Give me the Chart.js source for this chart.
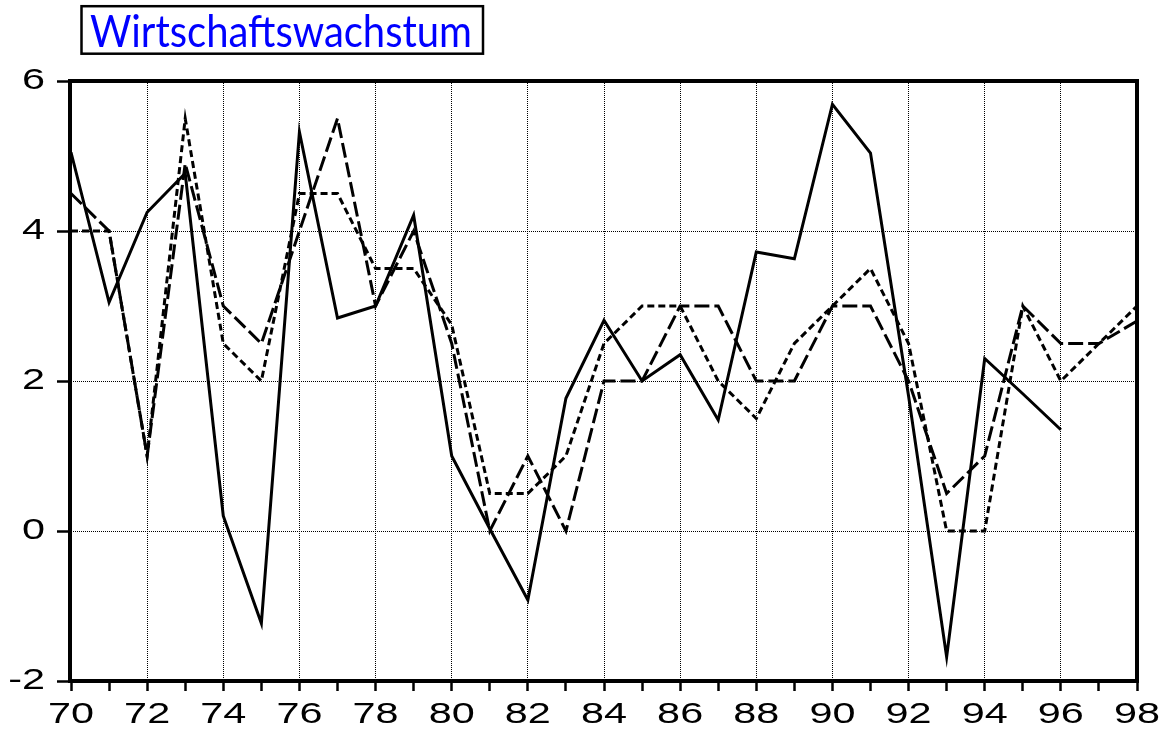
<!DOCTYPE html>
<html>
<head>
<meta charset="utf-8">
<script src="https://cdn.jsdelivr.net/npm/chart.js@4.4.1/dist/chart.umd.min.js"></script>
<style>
  html, body { margin: 0; padding: 0; background: #ffffff; }
  #wrap { width: 1167px; height: 731px; }
</style>
</head>
<body>
<div id="wrap"><canvas id="c" width="1167" height="731"></canvas></div>
<script>
// ---- data ----
const years = ['70','71','72','73','74','75','76','77','78','79','80','81','82','83','84','85','86','87','88','89','90','91','92','93','94','95','96','97','98'];
const xTickLabels = ['70','72','74','76','78','80','82','84','86','88','90','92','94','96','98'];
const yTickValues = [-2, 0, 2, 4, 6];
const titleText = 'Wirtschaftswachstum';

// solid line (actual growth)
const actual = [5.05, 3.05, 4.25, 4.77, 0.2, -1.23, 5.32, 2.84, 3.0, 4.21, 1.0, 0.03, -0.92, 1.77, 2.81, 2.0, 2.35, 1.48, 3.72, 3.63, 5.69, 5.04, 1.8, -1.68, 2.3, 1.83, 1.35, null, null];
// long-dashed line
const forecastA = [4.5, 4.0, 1.0, 4.9, 3.0, 2.5, 4.0, 5.5, 3.0, 4.0, 2.5, 0.0, 1.0, 0.0, 2.0, 2.0, 3.0, 3.0, 2.0, 2.0, 3.0, 3.0, 2.0, 0.5, 1.0, 3.0, 2.5, 2.5, 2.8];
// short-dashed line
const forecastB = [4.0, 4.0, 1.0, 5.5, 2.5, 2.0, 4.5, 4.5, 3.5, 3.5, 2.75, 0.5, 0.5, 1.0, 2.5, 3.0, 3.0, 2.0, 1.5, 2.5, 3.0, 3.5, 2.5, 0.0, 0.0, 3.0, 2.0, 2.5, 3.0];

const LABEL_FONT = '30px "Liberation Sans"';
const LABEL_STRETCH = 1.38;

function stretchedText(ctx, text, x, y, align) {
  const w = ctx.measureText(text).width * LABEL_STRETCH;
  let left = x;
  if (align === 'center') left = x - w / 2;
  else if (align === 'right') left = x - w;
  ctx.save();
  ctx.translate(left, y);
  ctx.scale(LABEL_STRETCH, 1);
  ctx.textAlign = 'left';
  ctx.textBaseline = 'alphabetic';
  ctx.fillText(text, 0, 0);
  ctx.restore();
}

const axisLabelPlugin = {
  id: 'axisLabels',
  afterDraw(chart) {
    const ctx = chart.ctx;
    const xs = chart.scales.x, ys = chart.scales.y;
    ctx.save();
    ctx.font = LABEL_FONT;
    ctx.fillStyle = '#000000';
    years.forEach((lab, i) => {
      if (!xTickLabels.includes(lab)) return;
      stretchedText(ctx, lab, xs.getPixelForValue(i), 723, 'center');
    });
    yTickValues.forEach(v => {
      stretchedText(ctx, String(v), 45, ys.getPixelForValue(v) + 7.5, 'right');
    });
    ctx.restore();
  }
};

const titleBoxPlugin = {
  id: 'titleBox',
  afterDraw(chart) {
    const ctx = chart.ctx;
    ctx.save();
    ctx.font = '44px Lato';
    const w = ctx.measureText(titleText).width;
    const targetW = 382;
    ctx.translate(90, 46.5);
    ctx.scale(targetW / w, 1);
    ctx.fillStyle = '#0000ff';
    ctx.textBaseline = 'alphabetic';
    ctx.textAlign = 'left';
    ctx.fillText(titleText, 0, 0);
    ctx.restore();
    ctx.save();
    ctx.strokeStyle = '#000000';
    ctx.lineWidth = 2.5;
    ctx.strokeRect(81.5, 6.2, 401.5, 47.5);
    ctx.restore();
  }
};

const framePlugin = {
  id: 'frame',
  afterDatasetsDraw(chart) {
    const a = chart.chartArea;
    const ctx = chart.ctx;
    ctx.save();
    ctx.strokeStyle = '#000000';
    ctx.lineWidth = 4;
    ctx.strokeRect(a.left - 1, a.top, a.right - a.left + 1, a.bottom - a.top);
    ctx.restore();
  }
};

new Chart(document.getElementById('c'), {
  type: 'line',
  data: {
    labels: years,
    datasets: [
      { label: 'actual', data: actual, borderColor: '#000', borderWidth: 3, pointRadius: 0, tension: 0, spanGaps: false, fill: false },
      { label: 'forecast A', data: forecastA, borderColor: '#000', borderWidth: 3, borderDash: [15, 5], pointRadius: 0, tension: 0, fill: false },
      { label: 'forecast B', data: forecastB, borderColor: '#000', borderWidth: 3, borderDash: [7, 4], pointRadius: 0, tension: 0, fill: false }
    ]
  },
  options: {
    responsive: false,
    animation: false,
    events: [],
    layout: { padding: { top: 81, right: 30, left: 0, bottom: 0 } },
    plugins: { legend: { display: false }, title: { display: false }, tooltip: { enabled: false } },
    scales: {
      x: {
        type: 'category',
        offset: false,
        afterFit(scale) { scale.height = 50; },
        border: { display: false, dash: [1, 1] },
        grid: {
          color(ctx) { return (ctx.index % 2 === 0) ? '#000000' : 'rgba(0,0,0,0)'; },
          lineWidth: 1,
          drawTicks: true,
          tickLength: 10,
          tickColor: '#000000',
          tickWidth: 2.5,
          tickBorderDash: []
        },
        ticks: {
          autoSkip: false,
          maxRotation: 0,
          color: 'rgba(0,0,0,0)',
          font: { family: 'Liberation Sans', size: 30 },
          callback(value, index) { const l = years[index]; return xTickLabels.includes(l) ? l : ''; }
        }
      },
      y: {
        min: -2,
        max: 6,
        afterFit(scale) { scale.width = 71; },
        afterBuildTicks(scale) { scale.ticks = yTickValues.map(v => ({ value: v })); },
        border: { display: false, dash: [1, 1] },
        grid: {
          color: '#000000',
          lineWidth: 1,
          drawTicks: true,
          tickLength: 14,
          tickColor: '#000000',
          tickWidth: 2.5,
          tickBorderDash: []
        },
        ticks: {
          padding: 10,
          color: 'rgba(0,0,0,0)',
          font: { family: 'Liberation Sans', size: 30 }
        }
      }
    }
  },
  plugins: [titleBoxPlugin, framePlugin, axisLabelPlugin]
});
</script>
</body>
</html>
